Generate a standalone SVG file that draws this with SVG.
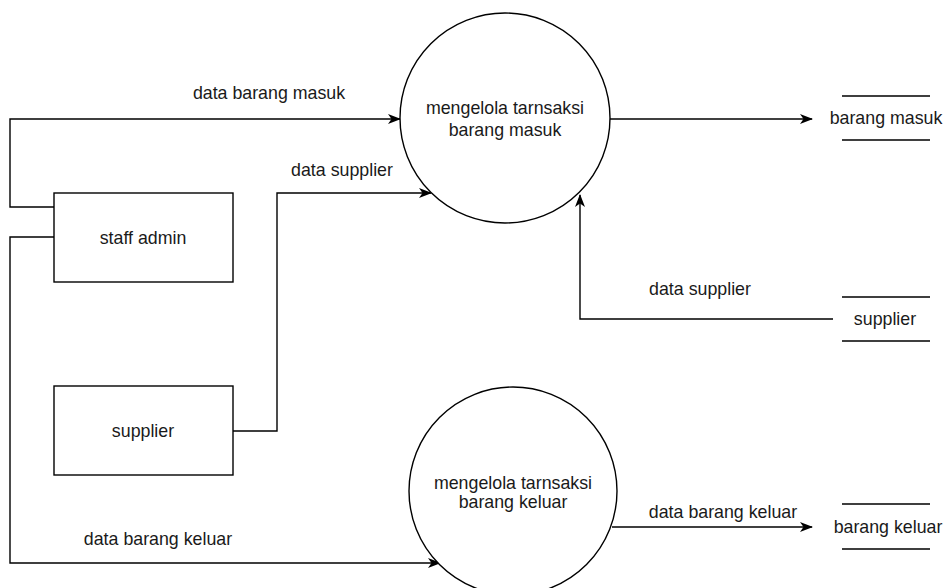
<svg xmlns="http://www.w3.org/2000/svg" width="947" height="588" viewBox="0 0 947 588">
<defs>
<style>
.s{fill:none;stroke:#000;stroke-width:1.4}
.b{fill:#fff;stroke:#000;stroke-width:1.4}
text{font-family:"Liberation Sans",Arial,sans-serif;font-size:17.8px;fill:#1a1a1a;text-anchor:middle;dominant-baseline:central}
</style>
<marker id="a" viewBox="0 0 13 10" refX="12" refY="5" markerWidth="13" markerHeight="10" markerUnits="userSpaceOnUse" orient="auto">
<path d="M0,0 L13,5 L0,10 L3.5,5 Z" fill="#000"/>
</marker>
</defs>
<rect width="947" height="588" fill="#fff"/>
<g id="connectors">
<path class="s" d="M54,207 H10 V119 H400" marker-end="url(#a)"/>
<text x="269" y="93">data barang masuk</text>
<path class="s" d="M233,431 H277 V193 H431" marker-end="url(#a)"/>
<text x="342" y="170">data supplier</text>
<path class="s" d="M610,119 H812" marker-end="url(#a)"/>
<path class="s" d="M833,319 H580 V195" marker-end="url(#a)"/>
<text x="700" y="289">data supplier</text>
<path class="s" d="M54,237 H10 V563 H440" marker-end="url(#a)"/>
<text x="158" y="539">data barang keluar</text>
<path class="s" d="M612,527 H812" marker-end="url(#a)"/>
<text x="723" y="512">data barang keluar</text>
</g>
<g id="p1">
<circle class="b" cx="505" cy="118" r="105"/>
<text x="505" y="108">mengelola tarnsaksi</text>
<text x="505" y="130">barang masuk</text>
</g>
<g id="p2">
<circle class="b" cx="513" cy="491" r="104"/>
<text x="513" y="483">mengelola tarnsaksi</text>
<text x="513" y="502">barang keluar</text>
</g>
<g id="staff">
<rect class="b" x="54" y="193" width="179" height="89"/>
<text x="143" y="238">staff admin</text>
</g>
<g id="supplier">
<rect class="b" x="54" y="386" width="179" height="89"/>
<text x="143" y="431">supplier</text>
</g>
<g id="ds-masuk">
<path class="s" d="M842,96 H930 M842,140 H930"/>
<text x="886" y="118">barang masuk</text>
</g>
<g id="ds-supplier">
<path class="s" d="M842,297 H930 M842,341 H930"/>
<text x="885" y="319">supplier</text>
</g>
<g id="ds-keluar">
<path class="s" d="M842,504 H930 M842,549 H930"/>
<text x="888" y="527">barang keluar</text>
</g>
</svg>
